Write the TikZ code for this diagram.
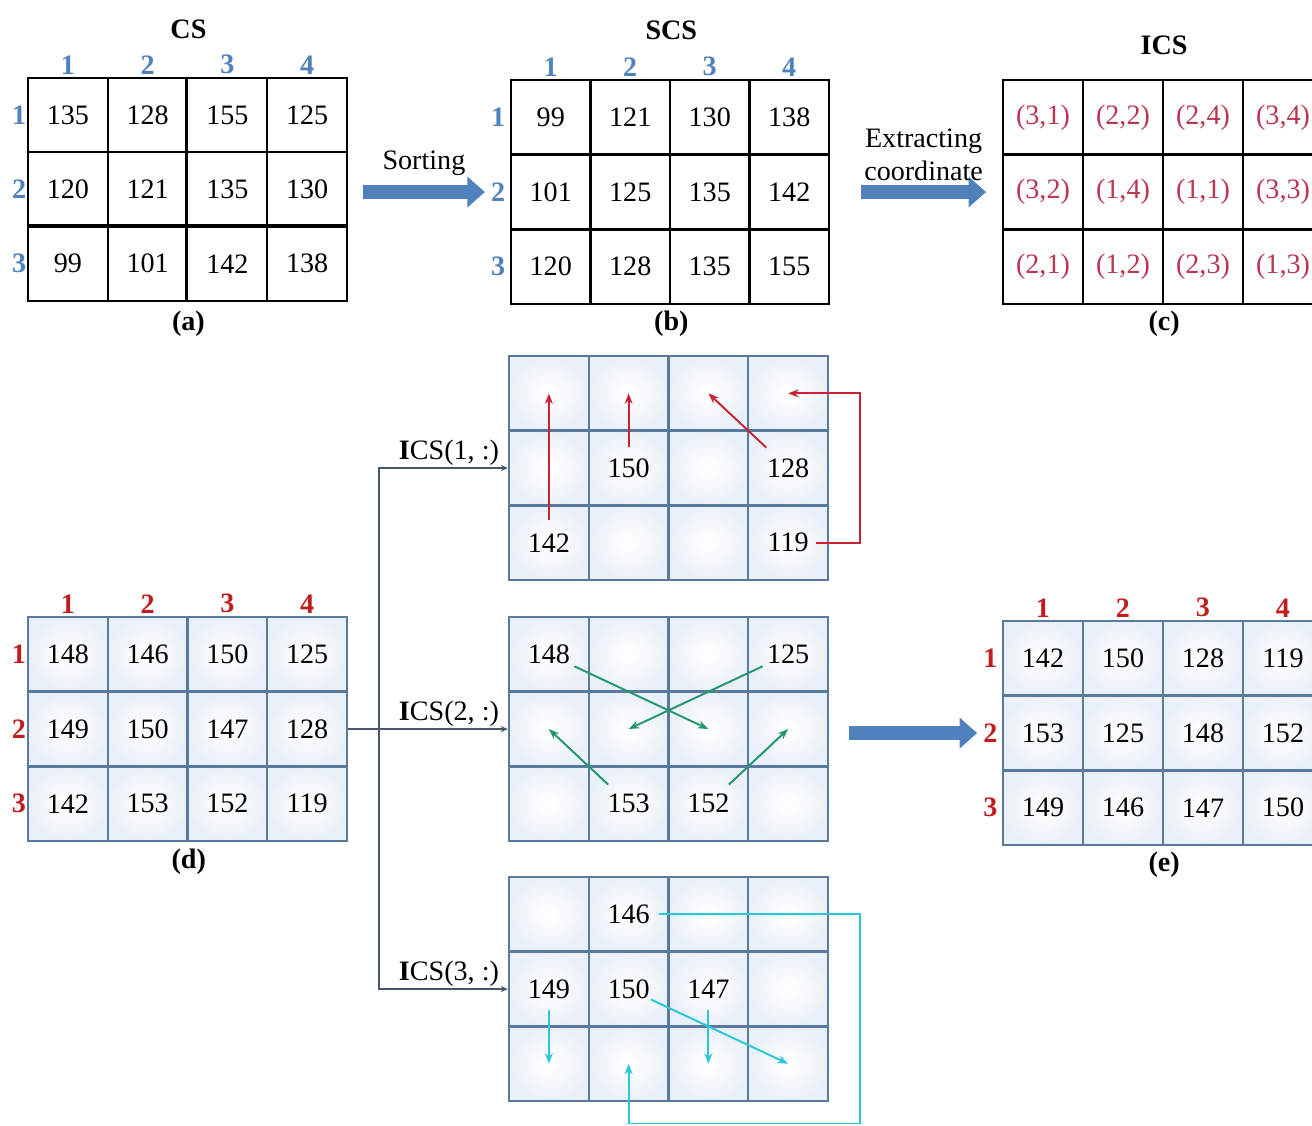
\documentclass[tikz,border=0pt]{standalone}
\usepackage{fontspec}
\setmainfont{Liberation Serif}
\usetikzlibrary{positioning,arrows.meta,calc}

\definecolor{labblue}{RGB}{79,129,189}
\definecolor{labred}{RGB}{192,30,30}
\definecolor{icsred}{RGB}{185,55,80}
\definecolor{gridblue}{RGB}{88,122,156}
\definecolor{cellblue}{RGB}{234,240,248}
\definecolor{arrred}{RGB}{200,35,50}
\definecolor{arrgreen}{RGB}{35,150,110}
\definecolor{arrcyan}{RGB}{40,200,215}
\definecolor{linkgray}{RGB}{70,85,105}

\tikzset{
  cell/.style={draw, line width=1.1pt, minimum width=1.595cm, minimum height=1.49cm,
    inner sep=0pt, font=\fontsize{16}{19}\selectfont},
  bcell/.style={cell, draw=gridblue, line width=1.4pt, inner color=white, outer color=cellblue},
  icscell/.style={cell, text=icsred},
  hlab/.style={font=\fontsize{16}{19}\selectfont\bfseries, text=#1},
  title/.style={font=\fontsize{16}{19}\selectfont\bfseries},
  capt/.style={font=\fontsize{16}{19}\selectfont\bfseries},
  txt/.style={font=\fontsize{16}{19}\selectfont},
  bigarrow/.style={draw=labblue, line width=8pt, -{Triangle[length=10pt,width=17pt]}},
  link/.style={draw=linkgray, line width=0.9pt, -{Stealth[length=4pt,width=3.5pt]}},
  move/.style={draw=#1, line width=1.1pt, -{Stealth[length=6pt,width=4.5pt]}},
}

\begin{document}
\begin{tikzpicture}[x=0.02cm, y=-0.02cm]
  \useasboundingbox (0,0) rectangle (1312,1126);
  \clip (0,0) rectangle (1312,1126);

  % (a) CS
  \foreach \row [count=\i] in {{135,128,155,125},{120,121,135,130},{99,101,142,138}}
    \foreach \v [count=\j] in \row
      \node[cell] (cs-\i-\j) at ({28+79.75*(\j-0.5)},{78+74.3*(\i-0.5)}) {\v};
  \draw[line width=1.8pt] (cs-1-3.north west) -- (cs-3-3.south west);
  \draw[line width=1.8pt] (cs-3-1.north west) -- (cs-3-4.north east);
  \foreach \j in {1,...,4}
    \node[hlab=labblue, above=-2pt of cs-1-\j] (cs-c\j) {\j};
  \foreach \i in {1,2,3}
    \node[hlab=labblue, left=-3pt of cs-\i-1] (cs-r\i) {\i};
  \node[title, above=18pt of cs-1-2.north east] (cs-title) {CS};
  \node[capt, below=1.5pt of cs-3-2.south east] (cs-capt) {(a)};

  % (b) SCS
  \foreach \row [count=\i] in {{99,121,130,138},{101,125,135,142},{120,128,135,155}}
    \foreach \v [count=\j] in \row
      \node[cell, line width=1.4pt] (scs-\i-\j) at ({511+79.5*(\j-0.5)},{80+74.7*(\i-0.5)}) {\v};
  \foreach \j in {1,...,4}
    \node[hlab=labblue, above=-2pt of scs-1-\j] (scs-c\j) {\j};
  \foreach \i in {1,2,3}
    \node[hlab=labblue, left=-1pt of scs-\i-1] (scs-r\i) {\i};
  \node[title, above=19pt of scs-1-2.north east] (scs-title) {SCS};
  \node[capt, below=0pt of scs-3-2.south east] (scs-capt) {(b)};

  % (c) ICS
  \foreach \row [count=\i] in {{(3,1),(2,2),(2,4),(3,4)},{(3,2),(1,4),(1,1),(3,3)},{(2,1),(1,2),(2,3),(1,3)}}
    \foreach \v [count=\j] in \row
      \node[icscell, line width=1.4pt] (ics-\i-\j) at ({1003+80*(\j-0.5)},{80+74.7*(\i-0.5)}) {\v};
  \node[title, above=10pt of ics-1-2.north east] (ics-title) {ICS};
  \node[capt, below=0pt of ics-3-2.south east] (ics-capt) {(c)};

  \draw[bigarrow] ([xshift=8.5pt]cs-2-4.east |- scs-2-1.center) -- (scs-r2.west)
    node[midway, above=2pt, txt] {Sorting};
  \draw[bigarrow] ([xshift=17.5pt]scs-2-4.east) -- ([xshift=-9pt]ics-2-1.west)
    node[midway, above=-1pt, txt, align=center] {Extracting\\coordinate};

  % (d)
  \foreach \row [count=\i] in {{148,146,150,125},{149,150,147,128},{142,153,152,119}}
    \foreach \v [count=\j] in \row
      \node[bcell] (d-\i-\j) at ({28+79.75*(\j-0.5)},{617+74.7*(\i-0.5)}) {\v};
  \foreach \j in {1,...,4}
    \node[hlab=labred, above=-2pt of d-1-\j] (d-c\j) {\j};
  \foreach \i in {1,2,3}
    \node[hlab=labred, left=-3pt of d-\i-1] (d-r\i) {\i};
  \node[capt, below=0.5pt of d-3-2.south east] (d-capt) {(d)};

  % row grids
  \foreach \row [count=\i] in {{{},{},{},{}},{{},150,{},128},{142,{},{},119}}
    \foreach \v [count=\j] in \row
      \node[bcell] (g1-\i-\j) at ({509+79.75*(\j-0.5)},{356+74.7*(\i-0.5)}) {\v};
  \foreach \row [count=\i] in {{148,{},{},125},{{},{},{},{}},{{},153,152,{}}}
    \foreach \v [count=\j] in \row
      \node[bcell] (g2-\i-\j) at ({509+79.75*(\j-0.5)},{617+74.7*(\i-0.5)}) {\v};
  \foreach \row [count=\i] in {{{},146,{},{}},{149,150,147,{}},{{},{},{},{}}}
    \foreach \v [count=\j] in \row
      \node[bcell] (g3-\i-\j) at ({509+79.75*(\j-0.5)},{877+74.7*(\i-0.5)}) {\v};

  \coordinate (fork) at ([xshift=17.5pt]d-2-4.east);
  \draw[link] (d-2-4.east) -- (g2-2-1.west);
  \draw[link] (fork) |- (g1-2-1.west);
  \draw[link] (fork) |- (g3-2-1.west);
  \node[txt, above left=-2pt and 1.5pt of g1-2-1.west] (lab1) {\textbf{I}CS(1, :)};
  \node[txt, above left=-2pt and 1.5pt of g2-2-1.west] (lab2) {\textbf{I}CS(2, :)};
  \node[txt, above left=-2pt and 1.5pt of g3-2-1.west] (lab3) {\textbf{I}CS(3, :)};

  % moves in ICS(1, :)
  \draw[move=arrred, shorten <=13pt] (g1-3-1.center) -- (g1-1-1.center);
  \draw[move=arrred, shorten <=12pt] (g1-2-2.center) -- (g1-1-2.center);
  \draw[move=arrred, shorten <=17pt] (g1-2-4.center) -- (g1-1-3.center);
  \coordinate (redturn) at ([xshift=41pt]g1-1-4.center);
  \draw[move=arrred] ([xshift=16pt]g1-3-4.center) -| (redturn) -- (g1-1-4.center);

  % moves in ICS(2, :)
  \draw[move=arrgreen, shorten <=16pt] (g2-1-1.center) -- (g2-2-3.center);
  \draw[move=arrgreen, shorten <=16pt] (g2-1-4.center) -- (g2-2-2.center);
  \draw[move=arrgreen, shorten <=16pt] (g2-3-2.center) -- (g2-2-1.center);
  \draw[move=arrgreen, shorten <=16pt] (g2-3-3.center) -- (g2-2-4.center);

  % moves in ICS(3, :)
  \draw[move=arrcyan, shorten <=12pt] (g3-2-1.center) -- (g3-3-1.center);
  \draw[move=arrcyan, shorten <=12pt] (g3-2-3.center) -- (g3-3-3.center);
  \draw[move=arrcyan, shorten <=14pt] (g3-2-2.center) -- (g3-3-4.center);
  \coordinate (cyanturn) at ([xshift=41pt,yshift=-34pt]g3-3-4.center);
  \draw[move=arrcyan] ([xshift=17pt]g3-1-2.center) -| (cyanturn) -| (g3-3-2.center);

  % (e)
  \foreach \row [count=\i] in {{142,150,128,119},{153,125,148,152},{149,146,147,150}}
    \foreach \v [count=\j] in \row
      \node[bcell] (e-\i-\j) at ({1003+80*(\j-0.5)},{621+74.7*(\i-0.5)}) {\v};
  \foreach \j in {1,...,4}
    \node[hlab=labred, above=-2pt of e-1-\j] (e-c\j) {\j};
  \foreach \i in {1,2,3}
    \node[hlab=labred, left=-1pt of e-\i-1] (e-r\i) {\i};
  \node[capt, below=0pt of e-3-2.south east] (e-capt) {(e)};

  \draw[bigarrow] ([xshift=11pt]g2-2-4.east |- e-2-1.center) -- (e-r2.west);
\end{tikzpicture}
\end{document}
